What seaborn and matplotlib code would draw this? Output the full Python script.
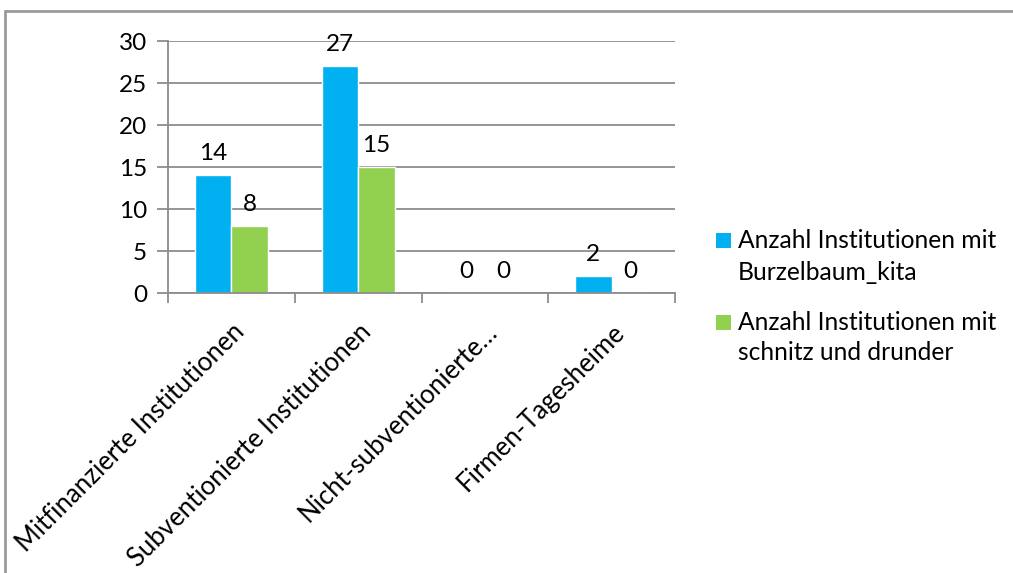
import matplotlib
matplotlib.use("Agg")
import matplotlib.pyplot as plt
import matplotlib.transforms as mtransforms
from matplotlib.patches import Rectangle
import seaborn as sns
import pandas as pd

categories = ["Mitfinanzierte Institutionen", "Subventionierte Institutionen",
              "Nicht-subventionierte…", "Firmen-Tagesheime"]
series_names = ["Anzahl Institutionen mit\nBurzelbaum_kita",
                "Anzahl Institutionen mit\nschnitz und drunder"]
burzelbaum = [14, 27, 0, 2]
schnitz = [8, 15, 0, 0]
y_ticks = [0, 5, 10, 15, 20, 25, 30]
colors = ["#00B0F0", "#92D050"]

df = pd.DataFrame({
    "cat": categories * 2,
    "series": [series_names[0]] * 4 + [series_names[1]] * 4,
    "value": burzelbaum + schnitz,
})

sns.set_theme(style="white")
plt.rcParams["font.family"] = ["Lato", "DejaVu Sans"]
FS = 17.5
FS_CAT = 18.5
FS_LEG = 17.7

W, H = 1013, 573
fig = plt.figure(figsize=(W / 100, H / 100), dpi=100)
ax = fig.add_axes([168 / W, 1 - 293 / H, 507 / W, 252 / H])

sns.barplot(data=df, x="cat", y="value", hue="series", palette=colors,
            width=0.575, gap=0, ax=ax, legend=False, saturation=1)

ax.set_ylim(0, 30)
ax.set_xlim(-0.5, 3.5)
ax.set_yticks(y_ticks)
ax.set_yticklabels([str(t) for t in y_ticks], fontsize=FS, color="black")
ax.yaxis.grid(True, color="#8c8c8c", linewidth=1.3)
ax.set_axisbelow(True)
ax.tick_params(axis="y", length=8, width=1.3, color="#8c8c8c", pad=7, left=True)
ax.set_xticks([-0.5, 0.5, 1.5, 2.5, 3.5])
ax.set_xticklabels([])
ax.tick_params(axis="x", length=7, width=1.3, color="#8c8c8c", direction="out", bottom=True)
for s in ["top", "right"]:
    ax.spines[s].set_visible(False)
for s in ["left", "bottom"]:
    ax.spines[s].set_color("#8c8c8c")
    ax.spines[s].set_linewidth(1.3)
ax.set_xlabel("")
ax.set_ylabel("")

for cont in ax.containers:
    ax.bar_label(cont, fmt="%d", padding=8, fontsize=FS, color="black")

# rotated category labels
trans = mtransforms.blended_transform_factory(ax.transData, ax.transAxes) + \
    mtransforms.ScaledTranslation(0, -0.26, fig.dpi_scale_trans)
for i, c in enumerate(categories):
    ax.text(i, 0, c, rotation=45, ha="right", va="top", rotation_mode="anchor",
            fontsize=FS_CAT, color="black", transform=trans)

# legend
line_y = [[240, 272], [322, 353]]
for i, name in enumerate(series_names):
    fig.patches.append(Rectangle((716 / W, 1 - (line_y[i][0] + 7.5) / H), 15 / W, 15 / H,
                                 transform=fig.transFigure, facecolor=colors[i],
                                 edgecolor="none"))
    for line, yy in zip(name.split("\n"), line_y[i]):
        fig.text(738 / W, 1 - yy / H, line, fontsize=FS_LEG, va="center", ha="left",
                 color="black")

# outer frame
fig.patches.append(Rectangle((4.5 / W, -0.1), 1.2, 1 - 10.5 / H + 0.1,
                             transform=fig.transFigure, fill=False,
                             edgecolor="#9a9a9a", linewidth=2))

fig.savefig("out.png", dpi=100)
